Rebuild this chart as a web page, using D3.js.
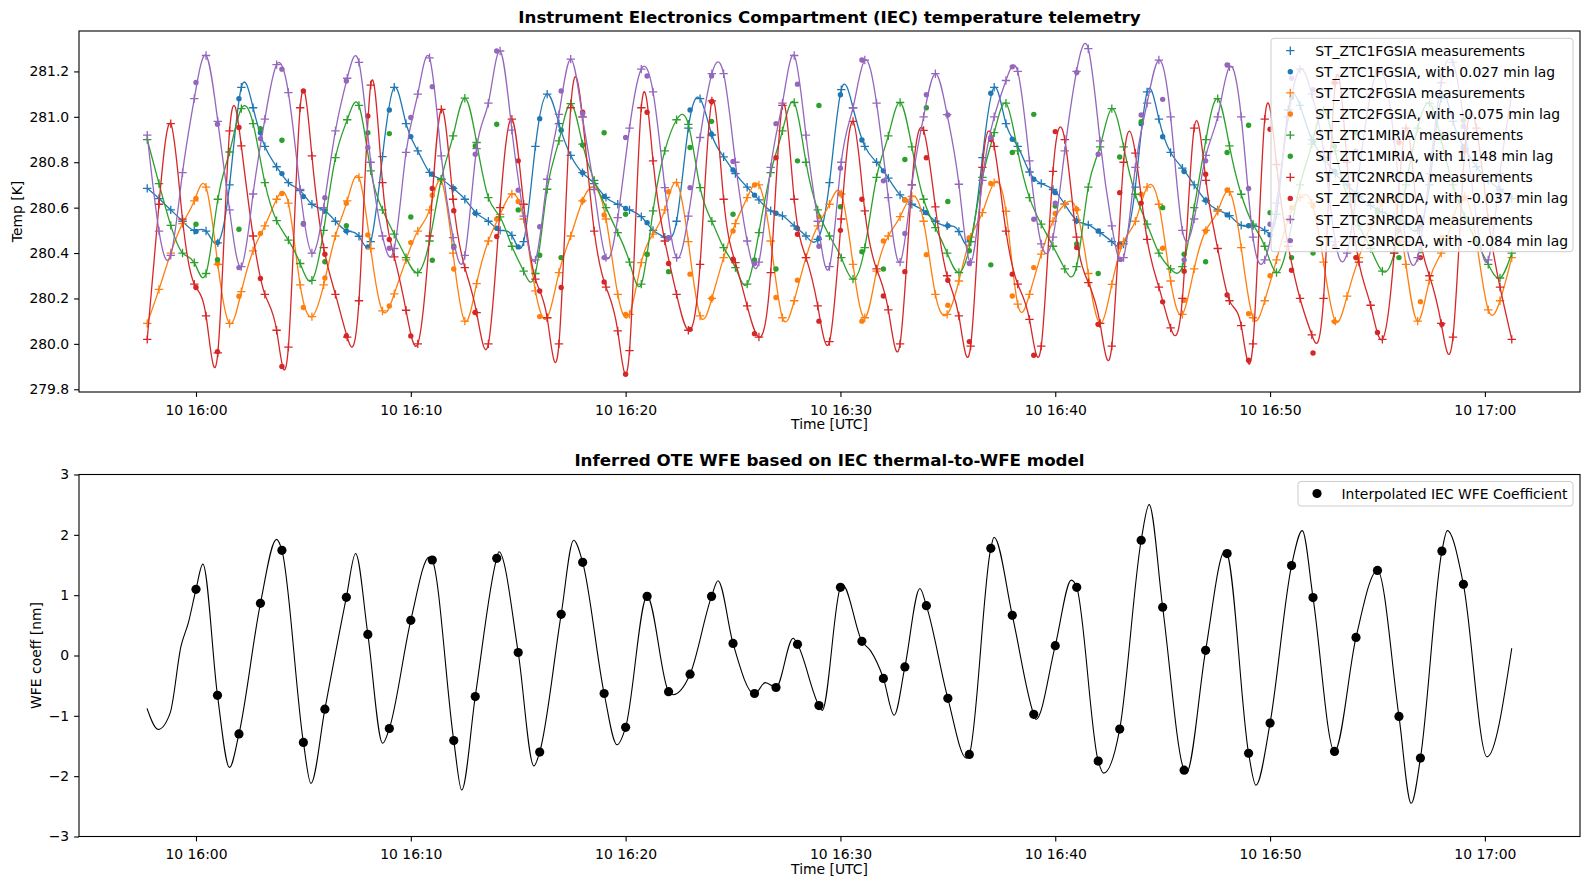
<!DOCTYPE html>
<html>
<head>
<meta charset="utf-8">
<script src="https://cdn.jsdelivr.net/npm/d3@7"></script>
<style>
body { margin: 0; background: #fff; }
svg { display: block; font-family: "DejaVu Sans", sans-serif; }
</style>
</head>
<body>
<svg id="chart" width="1590" height="889"></svg>
<script>
// measurement cadence (minutes after 16:00 UTC)
let measStart = -2.27;
let measStep = 0.5476;
// lagged points are evaluated on whole minutes
let lagMinutes = d3.range(0, 60);

// ST_ZTC1FGSIA measurements [K]
let c1fgsMeas = [280.685, 280.64, 280.59, 280.54, 280.50, 280.497, 280.445, 280.70, 281.13, 281.04,
  280.87, 280.78, 280.71, 280.675, 280.615, 280.59, 280.54, 280.497, 280.474, 280.45,
  280.825, 281.13, 280.97, 280.85, 280.755, 280.725, 280.685, 280.637, 280.575, 280.54,
  280.50, 280.478, 280.45, 280.87, 281.10, 280.97, 280.83, 280.754, 280.706, 280.645,
  280.615, 280.59, 280.56, 280.50, 280.47, 280.54, 280.95, 281.08, 280.92, 280.824,
  280.75, 280.69, 280.634, 280.586, 280.564, 280.52, 280.475, 280.46, 280.71, 281.12,
  281.04, 280.87, 280.80, 280.73, 280.656, 280.615, 280.586, 280.54, 280.52, 280.495,
  280.45, 280.82, 281.13, 280.97, 280.87, 280.757, 280.706, 280.68, 280.615, 280.545,
  280.524, 280.49, 280.45, 280.44, 280.69, 281.11, 280.99, 280.843, 280.774, 280.70,
  280.63, 280.59, 280.565, 280.522, 280.52, 280.50, 280.57, 281.03, 281.05, 280.90,
  280.82, 280.75, 280.70, 280.65, 280.61, 280.58, 280.56, 280.53, 280.50, 280.70,
  281.08, 280.98, 280.86, 280.78, 280.72, 280.68, 280.64];
let c1fgsLag = [280.495, 280.446, 281.08, 280.93, 280.75, 280.649, 280.585, 280.497, 280.427, 281.03,
  280.913, 280.747, 280.685, 280.575, 280.509, 280.427, 280.992, 280.941, 280.754, 280.649,
  280.596, 280.534, 280.468, 281.03, 280.923, 280.766, 280.655, 280.575, 280.508, 280.464,
  281.097, 280.898, 280.762, 280.634, 280.578, 280.52, 280.46, 281.104, 280.901, 280.725,
  280.666, 280.541, 280.497, 280.44, 280.97, 280.912, 280.759, 280.633, 280.568, 280.52,
  280.48, 281.085, 280.89, 280.76, 280.66, 280.59, 280.54, 280.52, 281.09, 280.87];

// ST_ZTC2FGSIA
let c2fgsMeas = [280.09, 280.24, 280.40, 280.53, 280.63, 280.69, 280.35, 280.09, 280.23, 280.41,
  280.52, 280.637, 280.62, 280.26, 280.12, 280.26, 280.475, 280.63, 280.733, 280.42,
  280.145, 280.22, 280.37, 280.497, 280.59, 280.718, 280.40, 280.10, 280.265, 280.453,
  280.57, 280.66, 280.55, 280.233, 280.115, 280.314, 280.475, 280.63, 280.69, 280.55,
  280.218, 280.13, 280.358, 280.483, 280.59, 280.71, 280.45, 280.123, 280.20, 280.38,
  280.53, 280.644, 280.70, 280.453, 280.115, 280.19, 280.38, 280.52, 280.615, 280.66,
  280.35, 280.115, 280.32, 280.475, 280.56, 280.65, 280.54, 280.218, 280.13, 280.277,
  280.47, 280.578, 280.71, 280.584, 280.175, 280.218, 280.395, 280.54, 280.615, 280.59,
  280.31, 280.09, 280.262, 280.45, 280.54, 280.69, 280.615, 280.277, 280.13, 280.33,
  280.50, 280.584, 280.67, 280.424, 280.115, 280.19, 280.37, 280.55, 280.645, 280.62,
  280.36, 280.10, 280.21, 280.38, 280.52, 280.62, 280.64, 280.35, 280.10, 280.28,
  280.40, 280.55, 280.65, 280.45, 280.15, 280.19, 280.38];
let c2fgsLag = [280.64, 280.354, 280.21, 280.486, 280.662, 280.16, 280.29, 280.619, 280.48, 280.167,
  280.446, 280.655, 280.33, 280.138, 280.55, 280.627, 280.12, 280.38, 280.63, 280.568,
  280.13, 280.395, 280.67, 280.307, 280.20, 280.497, 280.70, 280.204, 280.28, 280.56,
  280.66, 280.10, 280.453, 280.634, 280.393, 280.17, 280.468, 280.706, 280.211, 280.336,
  280.574, 280.593, 280.086, 280.427, 280.659, 280.421, 280.192, 280.497, 280.678, 280.133,
  280.30, 280.60, 280.607, 280.098, 280.38, 280.63, 280.45, 280.186, 280.47, 280.64];

// ST_ZTC1MIRIA
let c1miriMeas = [280.90, 280.706, 280.522, 280.40, 280.358, 280.31, 280.637, 280.845, 281.036, 280.97,
  280.71, 280.543, 280.457, 280.354, 280.28, 280.50, 280.82, 280.987, 281.05, 280.762,
  280.59, 280.483, 280.38, 280.314, 280.453, 280.725, 280.916, 281.082, 280.887, 280.644,
  280.559, 280.43, 280.32, 280.31, 280.681, 280.894, 281.058, 280.88, 280.72, 280.60,
  280.49, 280.36, 280.263, 280.586, 280.85, 280.987, 280.967, 280.688, 280.54, 280.424,
  280.336, 280.263, 280.49, 280.754, 280.938, 281.063, 280.80, 280.59, 280.475, 280.38,
  280.285, 280.424, 280.733, 280.916, 281.063, 280.868, 280.637, 280.512, 280.40, 280.314,
  280.45, 280.733, 280.93, 281.06, 280.85, 280.644, 280.527, 280.43, 280.33, 280.34,
  280.69, 280.868, 281.036, 280.868, 280.659, 280.527, 280.40, 280.33, 280.34, 280.60,
  280.90, 281.08, 280.872, 280.659, 280.527, 280.43, 280.314, 280.45, 280.70, 280.88,
  281.03, 280.85, 280.65, 280.52, 280.42, 280.32, 280.40, 280.70, 280.95, 281.06,
  280.90, 280.70, 280.56, 280.45, 280.35, 280.29, 280.40];
let c1miriLag = [280.527, 280.371, 280.505, 280.948, 280.897, 280.53, 280.362, 280.52, 280.93, 280.926,
  280.559, 280.368, 280.43, 280.872, 280.967, 280.59, 280.39, 280.38, 280.876, 280.93,
  280.571, 280.395, 280.318, 280.865, 280.98, 280.571, 280.37, 280.33, 280.806, 281.05,
  280.604, 280.406, 280.33, 280.812, 281.04, 280.627, 280.41, 280.348, 280.843, 281.011,
  280.607, 280.44, 280.31, 280.823, 280.978, 280.60, 280.395, 280.362, 280.843, 280.963,
  280.578, 280.38, 280.40, 280.87, 280.93, 280.58, 280.38, 280.41, 280.92, 280.985];

// ST_ZTC2NRCDA
let c2nrcMeas = [280.02, 280.615, 280.97, 280.549, 280.263, 280.123, 279.96, 280.938, 280.872, 280.475,
  280.218, 280.06, 279.986, 281.04, 280.828, 280.424, 280.218, 280.03, 280.19, 281.14,
  280.71, 280.383, 280.148, 280.00, 280.475, 281.033, 280.637, 280.336, 280.138, 280.00,
  280.60, 280.99, 280.615, 280.285, 280.115, 280.00, 281.04, 281.00, 280.497, 280.25,
  280.057, 279.97, 281.04, 280.806, 280.453, 280.218, 280.06, 280.35, 281.07, 280.637,
  280.358, 280.167, 280.03, 280.314, 281.05, 280.637, 280.38, 280.167, 280.01, 280.55,
  280.98, 280.586, 280.33, 280.15, 280.00, 280.70, 280.94, 280.603, 280.30, 280.123,
  279.99, 280.777, 280.87, 280.497, 280.263, 280.108, 279.99, 280.76, 280.90, 280.47,
  280.27, 280.09, 279.99, 280.80, 280.84, 280.46, 280.25, 280.07, 280.20, 280.95,
  280.72, 280.42, 280.19, 280.08, 280.00, 280.99, 280.79, 280.43, 280.20, 280.04,
  280.20, 281.15, 280.80, 280.36, 280.17, 280.02, 280.40, 280.95, 280.55, 280.30,
  280.09, 280.03, 280.85, 280.95, 280.55, 280.25, 280.02];
let c2nrcLag = [280.248, 279.966, 280.953, 280.288, 279.90, 281.114, 280.395, 280.035, 281.004, 280.46,
  280.035, 280.684, 280.586, 280.138, 280.473, 280.806, 280.233, 280.248, 281.02, 280.273,
  279.866, 281.02, 280.354, 280.064, 281.067, 280.373, 280.045, 280.82, 280.483, 280.10,
  280.50, 280.637, 280.211, 280.318, 280.82, 280.28, 280.01, 280.90, 280.307, 279.95,
  280.935, 280.424, 280.086, 280.666, 280.62, 280.185, 280.32, 280.747, 280.215, 279.928,
  280.945, 280.324, 279.96, 281.15, 280.38, 280.05, 280.887, 280.38, 280.086, 280.85];

// ST_ZTC3NRCDA
let c3nrcMeas = [280.919, 280.497, 280.39, 280.754, 281.08, 281.27, 280.98, 280.59, 280.34, 280.66,
  280.99, 281.23, 281.107, 280.68, 280.40, 280.60, 280.938, 281.17, 281.24, 280.80,
  280.475, 280.42, 280.843, 281.10, 281.26, 280.828, 280.468, 280.39, 280.86, 281.06,
  281.29, 280.941, 280.563, 280.37, 280.725, 281.011, 281.254, 281.00, 280.68, 280.38,
  280.556, 280.95, 281.21, 281.11, 280.688, 280.38, 280.563, 280.909, 281.19, 281.19,
  280.80, 280.453, 280.36, 280.777, 281.06, 281.27, 280.919, 280.54, 280.34, 280.80,
  281.04, 281.25, 281.06, 280.644, 280.36, 280.70, 281.00, 281.19, 281.01, 280.703,
  280.36, 280.72, 281.00, 281.16, 281.20, 280.806, 280.44, 280.47, 280.85, 281.20,
  281.30, 280.894, 280.52, 280.38, 280.777, 281.06, 281.25, 281.00, 280.50, 280.55,
  280.83, 281.00, 281.22, 281.00, 280.47, 280.37, 280.62, 281.00, 281.21, 281.10,
  280.85, 280.45, 280.40, 280.75, 281.10, 281.20, 280.90, 280.45, 280.38, 280.75,
  281.15, 281.24, 280.95, 280.55, 280.37, 280.75, 281.10];
let c3nrcLag = [281.151, 280.967, 280.336, 280.904, 281.21, 280.527, 280.644, 281.158, 280.865, 280.421,
  280.997, 281.133, 280.424, 280.835, 281.29, 280.677, 280.516, 281.114, 281.014, 280.38,
  280.909, 281.18, 280.465, 280.688, 281.18, 280.803, 280.354, 280.97, 281.144, 280.43,
  280.774, 281.25, 280.718, 280.486, 281.097, 281.008, 280.354, 280.909, 281.22, 280.549,
  280.62, 281.195, 280.835, 280.373, 281.008, 281.077, 280.37, 280.806, 281.229, 280.684,
  280.527, 281.17, 281.12, 280.43, 280.85, 281.20, 280.50, 280.55, 281.18, 280.96];

let sensorNames = ["ST_ZTC1FGSIA", "ST_ZTC2FGSIA", "ST_ZTC1MIRIA", "ST_ZTC2NRCDA", "ST_ZTC3NRCDA"];
let sensorLags = ["0.027", "-0.075", "1.148", "-0.037", "-0.084"];
let sensorColors = ["#1f77b4", "#ff7f0e", "#2ca02c", "#d62728", "#9467bd"];
let sensorMeas = [c1fgsMeas, c2fgsMeas, c1miriMeas, c2nrcMeas, c3nrcMeas];
let sensorLagVals = [c1fgsLag, c2fgsLag, c1miriLag, c2nrcLag, c3nrcLag];

// WFE coefficient at whole minutes [nm]
let wfeLag = [1.097, -0.66, -1.30, 0.865, 1.743, -1.44, -0.89, 0.964, 0.35, -1.21,
  0.583, 1.583, -1.41, -0.68, 1.61, 0.05, -1.60, 0.683, 1.544, -0.63,
  -1.19, 0.98, -0.60, -0.31, 0.98, 0.20, -0.63, -0.53, 0.185, -0.83,
  1.13, 0.235, -0.38, -0.19, 0.826, -0.71, -1.64, 1.776, 0.666, -0.975,
  0.163, 1.13, -1.75, -1.22, 1.91, 0.80, -1.90, 0.086, 1.69, -1.62,
  -1.12, 1.49, 0.96, -1.59, 0.30, 1.41, -1.01, -1.70, 1.73, 1.18];
// continuous model curve
let wfeCurveT = [-2.28, -1.76, -1.2, -0.7, -0.35, 0, 0.32, 1, 1.56, 2, 3, 3.75, 4, 5, 5.35, 6, 7, 7.43, 8, 8.69,
  9, 10, 10.86, 11, 12, 12.37, 13, 14, 14.1, 15, 15.73, 16, 17, 17.58, 18, 19, 19.6, 20, 21, 22,
  22.2, 23, 24, 24.3, 25, 26, 26.5, 27, 27.8, 28, 29, 29.15, 30, 30.1, 31, 31.4, 32, 32.5, 33, 33.7,
  34, 35, 35.86, 36, 37, 37.15, 38, 39, 39.1, 40, 40.75, 41, 42, 42.25, 43, 44, 44.37, 45, 46, 46.1,
  47, 47.9, 48, 49, 49.34, 50, 51, 51.5, 52, 53, 54, 55, 56, 56.57, 57, 58, 58.25, 59, 60.1, 61.25];
let wfeCurveV = [-0.876, -1.224, -0.95, 0.15, 0.55, 1.097, 1.515, -0.66, -1.855, -1.30, 0.865, 1.924, 1.743, -1.44, -2.12, -0.89, 0.964, 1.69, 0.35, -1.455,
  -1.21, 0.583, 1.63, 1.583, -1.41, -2.23, -0.68, 1.61, 1.72, 0.05, -1.83, -1.60, 0.683, 1.91, 1.544, -0.63, -1.48, -1.19, 0.98, -0.60,
  -0.65, -0.31, 0.98, 1.24, 0.20, -0.64, -0.45, -0.53, 0.285, 0.185, -0.83, -0.91, 1.13, 1.17, 0.235, 0.08, -0.38, -0.99, -0.19, 1.11,
  0.826, -0.71, -1.70, -1.64, 1.776, 1.96, 0.666, -0.975, -1.06, 0.163, 1.25, 1.13, -1.75, -1.95, -1.22, 1.91, 2.50, 0.80, -1.90, -1.95,
  0.086, 1.73, 1.69, -1.62, -2.15, -1.12, 1.49, 2.07, 0.96, -1.59, 0.30, 1.41, -1.01, -2.45, -1.70, 1.73, 2.07, 1.18, -1.68, 0.12];

let tempTicks = [279.8, 280.0, 280.2, 280.4, 280.6, 280.8, 281.0, 281.2];
let wfeTicks = [-3, -2, -1, 0, 1, 2, 3];
let timeTicks = [0, 10, 20, 30, 40, 50, 60];

// get the svg and set up the layout
let svg = d3.select("#chart");
let plotLeft = 79;
let plotRight = 1580;
let topY0 = 31, topY1 = 392;
let botY0 = 474.5, botY1 = 836.5;
let fontSize = 13.9;

let base = Date.UTC(2022, 6, 10, 16, 0, 0);
function toDate(m) {
    return new Date(base + m * 60000);
}

let measTimes = d3.range(c1fgsMeas.length).map(i => measStart + i * measStep);
let tFirst = measTimes[0];
let tLast = measTimes[measTimes.length - 1];
let tPad = 0.05 * (tLast - tFirst);

let x = d3.scaleUtc()
    .domain([toDate(tFirst - tPad), toDate(tLast + tPad)])
    .range([plotLeft, plotRight]);
let yTop = d3.scaleLinear().domain([279.788, 281.378]).range([topY1, topY0]);
let yBot = d3.scaleLinear().domain([-3, 3]).range([botY1, botY0]);

// draw the x and y axes of one panel
function drawAxes(yScale, y0, y1, yTickVals, yFmt) {
    let gx = svg.append("g")
        .attr("transform", "translate(0," + y1 + ")")
        .call(d3.axisBottom(x)
            .tickValues(timeTicks.map(toDate))
            .tickFormat(d3.utcFormat("%d %H:%M"))
            .tickSize(4.9)
            .tickSizeOuter(0));
    gx.select(".domain").remove();
    gx.selectAll(".tick text").attr("y", 22.6).attr("dy", 0);

    let gy = svg.append("g")
        .attr("transform", "translate(" + plotLeft + ",0)")
        .call(d3.axisLeft(yScale)
            .tickValues(yTickVals)
            .tickFormat(yFmt)
            .tickSize(4.9)
            .tickPadding(4.9)
            .tickSizeOuter(0));
    gy.select(".domain").remove();

    [gx, gy].forEach(function (g) {
        g.selectAll(".tick line").attr("stroke", "black").attr("stroke-width", 1.1);
        g.selectAll(".tick text")
            .attr("fill", "black")
            .style("font-size", fontSize + "px")
            .style("font-family", "DejaVu Sans");
    });
}

function drawFrame(y0, y1) {
    svg.append("rect")
        .attr("x", plotLeft)
        .attr("y", y0)
        .attr("width", plotRight - plotLeft)
        .attr("height", y1 - y0)
        .attr("fill", "none")
        .attr("stroke", "black")
        .attr("stroke-width", 1.1);
}

function plusPath(cx, cy, s) {
    return "M" + (cx - s) + "," + cy + "H" + (cx + s) + "M" + cx + "," + (cy - s) + "V" + (cy + s);
}

function drawText(txt, tx, ty, opts) {
    let t = svg.append("text")
        .attr("x", tx)
        .attr("y", ty)
        .attr("fill", "black")
        .style("font-size", (opts.size || fontSize) + "px")
        .style("font-weight", opts.bold ? "bold" : "normal")
        .attr("text-anchor", opts.anchor || "start")
        .text(txt);
    if (opts.rotate) {
        t.attr("transform", "rotate(-90," + tx + "," + ty + ")");
    }
    return t;
}

// ---------- top panel: temperatures ----------
drawAxes(yTop, topY0, topY1, tempTicks, d3.format(".1f"));

let tempLine = d3.line()
    .x(d => x(toDate(d[0])))
    .y(d => yTop(d[1]))
    .curve(d3.curveNatural);

sensorMeas.forEach(function (vals, k) {
    let col = sensorColors[k];
    let pts = vals.map((v, i) => [measTimes[i], v]);
    svg.append("path")
        .attr("class", "temp-line")
        .attr("d", tempLine(pts))
        .attr("fill", "none")
        .attr("stroke", col)
        .attr("stroke-width", 1.3);
    svg.append("g").selectAll("path")
        .data(pts)
        .join("path")
        .attr("d", d => plusPath(x(toDate(d[0])), yTop(d[1]), 4.2))
        .attr("stroke", col)
        .attr("stroke-width", 1.3)
        .attr("fill", "none");
    svg.append("g").selectAll("circle")
        .data(sensorLagVals[k])
        .join("circle")
        .attr("cx", (d, i) => x(toDate(lagMinutes[i])))
        .attr("cy", d => yTop(d))
        .attr("r", 2.7)
        .attr("fill", col);
});

drawFrame(topY0, topY1);

// legend of the top panel
let legX = 1271, legY = 38.3, legW = 302, legH = 213.4, rowH = 21.1;
svg.append("rect")
    .attr("x", legX).attr("y", legY)
    .attr("width", legW).attr("height", legH)
    .attr("rx", 3)
    .attr("fill", "white").attr("fill-opacity", 0.8)
    .attr("stroke", "#cccccc").attr("stroke-width", 1);
sensorNames.forEach(function (name, k) {
    let col = sensorColors[k];
    let ry = legY + 12.4 + rowH * (2 * k);
    svg.append("path")
        .attr("d", plusPath(legX + 19.3, ry, 4.2))
        .attr("stroke", col).attr("stroke-width", 1.3);
    drawText(name + " measurements", legX + 44.3, ry + 5, {});
    let ry2 = ry + rowH;
    svg.append("circle")
        .attr("cx", legX + 19.3).attr("cy", ry2).attr("r", 2.7)
        .attr("fill", col);
    drawText(name + ", with " + sensorLags[k] + " min lag", legX + 44.3, ry2 + 5, {});
});

drawText("Instrument Electronics Compartment (IEC) temperature telemetry",
    (plotLeft + plotRight) / 2, topY0 - 8.3, {size: 16.7, bold: true, anchor: "middle"});
drawText("Time [UTC]", (plotLeft + plotRight) / 2, topY1 + 37, {anchor: "middle"});
drawText("Temp [K]", 21.5, (topY0 + topY1) / 2, {anchor: "middle", rotate: true});

// ---------- bottom panel: WFE ----------
drawAxes(yBot, botY0, botY1, wfeTicks, d => d < 0 ? "\u2212" + Math.abs(d) : String(d));

let wfeLine = d3.line()
    .x(d => x(toDate(d[0])))
    .y(d => yBot(d[1]))
    .curve(d3.curveMonotoneX);

svg.append("path")
    .attr("d", wfeLine(wfeCurveT.map((t, i) => [t, wfeCurveV[i]])))
    .attr("fill", "none")
    .attr("stroke", "black")
    .attr("stroke-width", 1.1);

svg.append("g").selectAll("circle")
    .data(wfeLag)
    .join("circle")
    .attr("cx", (d, i) => x(toDate(lagMinutes[i])))
    .attr("cy", d => yBot(d))
    .attr("r", 4.6)
    .attr("fill", "black");

drawFrame(botY0, botY1);

svg.append("rect")
    .attr("x", 1298).attr("y", 481.5)
    .attr("width", 275).attr("height", 24.5)
    .attr("rx", 3)
    .attr("fill", "white").attr("fill-opacity", 0.8)
    .attr("stroke", "#cccccc").attr("stroke-width", 1);
svg.append("circle")
    .attr("cx", 1317).attr("cy", 493.5).attr("r", 4.6)
    .attr("fill", "black");
drawText("Interpolated IEC WFE Coefficient", 1341.5, 498.5, {});

drawText("Inferred OTE WFE based on IEC thermal-to-WFE model",
    (plotLeft + plotRight) / 2, botY0 - 8.3, {size: 16.7, bold: true, anchor: "middle"});
drawText("Time [UTC]", (plotLeft + plotRight) / 2, botY1 + 37, {anchor: "middle"});
drawText("WFE coeff [nm]", 40.5, (botY0 + botY1) / 2, {anchor: "middle", rotate: true});
</script>
</body>
</html>
